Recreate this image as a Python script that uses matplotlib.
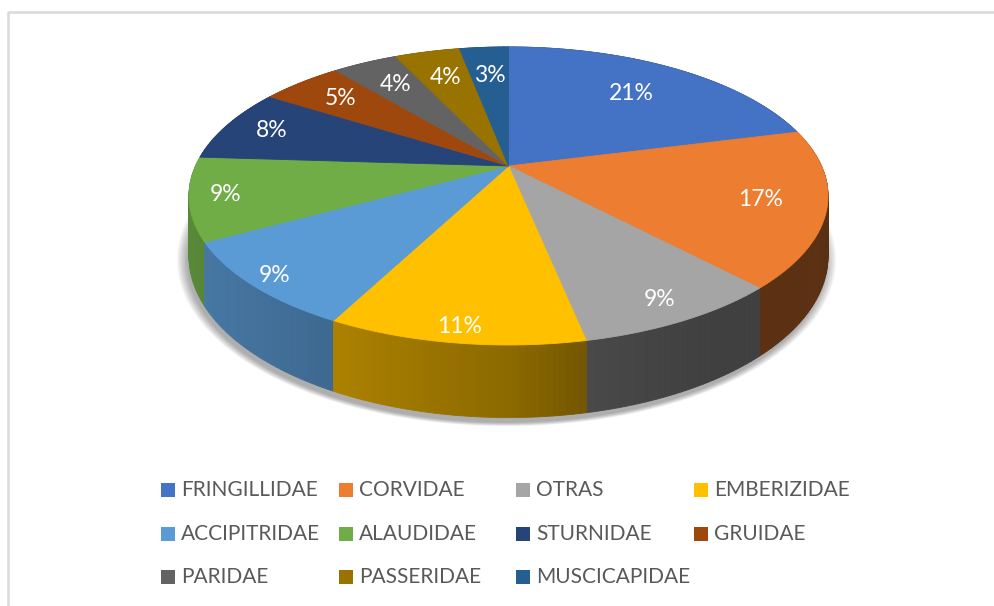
import numpy as np
import matplotlib.pyplot as plt
from matplotlib.patches import Polygon, Rectangle
from matplotlib.colors import to_rgb

# share of each family (%), clockwise from 12 o'clock
labels = ["FRINGILLIDAE", "CORVIDAE", "OTRAS", "EMBERIZIDAE", "ACCIPITRIDAE",
          "ALAUDIDAE", "STURNIDAE", "GRUIDAE", "PARIDAE", "PASSERIDAE", "MUSCICAPIDAE"]
values = [21.0, 17.0, 8.8, 10.8, 9.4, 9.0, 8.0, 5.0, 4.0, 4.0, 3.0]
colors = ["#4472C4", "#ED7D31", "#A5A5A5", "#FFC000", "#5B9BD5", "#70AD47",
          "#264478", "#9E480E", "#636363", "#997300", "#255E91"]

# fake 3d pie: disc seen from above with a bit of perspective
CX, CY = 508.5, 166
RX, RY, DEPTH, PERSP = 313, 143, 58, 0.201


def project(theta, r=1.0, z=0.0):
    u = r * np.cos(theta)
    v = r * np.sin(theta)
    d = 1 + PERSP * v
    return CX + RX * u / d, CY - (RY * v - DEPTH * z) / d


def shade(color, theta):
    # walls get darker towards the right
    f = np.interp(np.cos(theta), [-1, -0.55, 0.0, 0.22, 0.5, 1],
                  [0.8, 0.7, 0.55, 0.44, 0.39, 0.38])
    return tuple(c * f for c in to_rgb(color))


fig = plt.figure(figsize=(9.94, 6.06), dpi=100)
ax = fig.add_axes([0, 0, 1, 1])
ax.set_xlim(0, 994)
ax.set_ylim(606, 0)
ax.axis("off")

total = float(sum(values))
bounds = np.cumsum([0] + values) / total
angles = np.pi / 2 - 2 * np.pi * bounds

# soft shadow under the pie
ring = np.linspace(0, 2 * np.pi, 200)
bx, by = project(ring, 1.0, 1.0)
for i in range(10):
    s = 1.0 + 0.0035 * i
    sx = (bx - CX) * s + CX - 2
    sy = (by - 300) * s + 300 + 5
    ax.add_patch(Polygon(np.c_[sx, sy], closed=True, color="black", alpha=0.035, lw=0))

# outer walls, painted back to front
segs = []
for i, col in enumerate(colors):
    a0, a1 = angles[i], angles[i + 1]
    n = max(2, int(abs(a1 - a0) / np.radians(1.0)) + 1)
    t = np.linspace(a0, a1, n)
    for j in range(n - 1):
        segs.append((t[j], t[j + 1], col))
segs.sort(key=lambda s: -np.sin((s[0] + s[1]) / 2))
for t0, t1, col in segs:
    xt, yt = project(np.array([t0, t1]), 1.0, 0.0)
    xb, yb = project(np.array([t1, t0]), 1.0, 1.0)
    c = shade(col, (t0 + t1) / 2)
    ax.add_patch(Polygon(np.c_[np.r_[xt, xb], np.r_[yt, yb]], closed=True,
                         facecolor=c, edgecolor=c, lw=0.6))

# top faces
for i, col in enumerate(colors):
    t = np.linspace(angles[i], angles[i + 1], 80)
    x, y = project(t)
    ax.add_patch(Polygon(np.c_[np.r_[CX, x], np.r_[CY, y]], closed=True,
                         facecolor=col, edgecolor=col, lw=0.6))

# light from above: lighter at the back, a touch darker at the front
tx, ty = project(ring)
top = Polygon(np.c_[tx, ty], closed=True, facecolor="none", lw=0)
ax.add_patch(top)
gy = np.linspace(0, 1, 256)
grad = np.zeros((256, 1, 4))
grad[:, 0, :3] = np.where(gy < 0.5, 1.0, 0.0)[:, None]
grad[:, 0, 3] = np.where(gy < 0.5, 0.13 * (1 - gy / 0.5), 0.07 * (gy - 0.5) / 0.5)
im = ax.imshow(grad, extent=[tx.min(), tx.max(), ty.max(), ty.min()],
               aspect="auto", interpolation="bilinear")
im.set_clip_path(top)

# percentage labels
for i, v in enumerate(values):
    mid = (angles[i] + angles[i + 1]) / 2
    r = 0.82 - 0.1 * np.sin(mid) - 0.05 * np.cos(mid)
    x, y = project(mid, r)
    ax.text(x, y, "%.0f%%" % (100 * v / total), color="white", fontsize=16.5,
            family="Lato", ha="center", va="center")

# legend, four per row like excel
for i, (lab, col) in enumerate(zip(labels, colors)):
    row, cn = divmod(i, 4)
    lx = 161 + cn * 177.7
    ly = 490 + row * 43.5
    ax.add_patch(Rectangle((lx, ly - 7), 14, 14, color=col, lw=0))
    ax.text(lx + 20, ly, lab, color="#595959", fontsize=15, family="Lato",
            ha="left", va="center")

# chart area frame (only left and top visible)
ax.plot([7.5, 7.5, 994], [606, 11.5, 11.5], color="#d9d9d9", lw=1.8)

fig.savefig("out.png", dpi=100)
